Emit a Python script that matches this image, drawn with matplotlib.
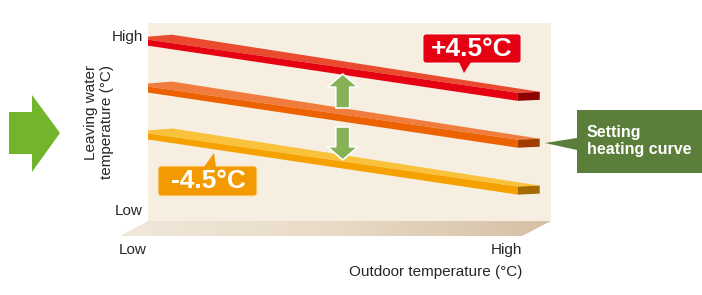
import numpy as np
import matplotlib.pyplot as plt
from matplotlib.patches import Polygon, FancyBboxPatch
from matplotlib.transforms import IdentityTransform
from matplotlib.colors import LinearSegmentedColormap
from matplotlib import font_manager

# heating curves: leaving water temp vs outdoor temp (low -> high)
outdoor = [-15, 15]
setting = [32.9, 27.8]
plus = [37.4, 32.3]      # +4.5 °C shift
minus = [28.4, 23.3]     # -4.5 °C shift

W, H = 702, 295
fig = plt.figure(figsize=(W / 100, H / 100), dpi=100)

names = {f.name for f in font_manager.fontManager.ttflist}
narrow = 'Liberation Sans Narrow' in names
big_font = ['Liberation Sans Narrow', 'Liberation Sans'] if narrow else ['Liberation Sans']
big_size = 21 if narrow else 19
plt.rcParams['font.family'] = ['Liberation Sans', 'DejaVu Sans']

# panel with the curves
ax = fig.add_axes([148 / W, 1 - 221 / H, 403 / W, 198 / H])
ax.set_xlim(-15, 17.7)
ax.set_ylim(20, 39)
ax.set_facecolor('#f5eee1')
ax.set_xticks([])
ax.set_yticks([])
for s in ax.spines.values():
    s.set_visible(False)

bars = [
    (plus, '#e50012', '#ea4a2e', '#8f0000'),
    (setting, '#ec6100', '#f07d3e', '#a03c00'),
    (minus, '#f5a200', '#f9c23a', '#a66b00'),
]
for vals, c_front, c_top, c_cap in bars:
    p0 = ax.transData.transform((outdoor[0], vals[0]))
    p1 = ax.transData.transform((outdoor[1], vals[1]))
    front = [p0, p1, p1 - (0, 8), p0 - (0, 6)]
    top = [p0, p1, p1 + (22, 1), p0 + (24, 5), p0 + (0, 3)]
    cap = [p1, p1 + (22, 1), p1 + (22, -7), p1 - (0, 8)]
    for verts, col in [(top, c_top), (front, c_front), (cap, c_cap)]:
        poly = Polygon(verts, closed=True, fc=col, ec='none',
                       transform=IdentityTransform())
        poly.set_clip_box(ax.bbox)
        ax.add_artist(poly)

# green arrows between the curves
xa = 0.8
s_mid = np.interp(xa, outdoor, setting)
p_mid = np.interp(xa, outdoor, plus)
m_mid = np.interp(xa, outdoor, minus)
arrow = dict(arrowstyle='simple,head_length=0.95,head_width=2.2,tail_width=1.0',
             fc='#86b155', ec='white', lw=1.2, shrinkA=0, shrinkB=0,
             mutation_scale=10)
ax.annotate('', xy=(xa, p_mid - 0.6), xytext=(xa, s_mid + 0.63),
            arrowprops=arrow, zorder=5)
ax.annotate('', xy=(xa, m_mid + 0.14), xytext=(xa, s_mid - 1.19),
            arrowprops=arrow, zorder=5)

# overlay in pixel units for the decorations
ov = fig.add_axes([0, 0, 1, 1], zorder=5)
ov.patch.set_visible(False)
ov.axis('off')

# floor of the box
floor = Polygon([(148, 221), (551, 221), (522, 236), (120, 236)], closed=True,
                fc='none', ec='none')
ov.add_patch(floor)
grad = LinearSegmentedColormap.from_list('floor', ['#f1e8da', '#e8dac6', '#d6c0a5'])
im = ov.imshow(np.linspace(0, 1, 256)[None, :], cmap=grad, aspect='auto',
               extent=(120, 551, 236, 221), interpolation='bilinear')
im.set_clip_path(floor)
ov.set_xlim(0, W)
ov.set_ylim(H, 0)

# big green arrow on the left
ov.add_patch(Polygon([(9, 112), (32, 112), (32, 95), (60, 133), (32, 172),
                      (32, 154), (9, 154)], closed=True, fc='#72b52d', ec='none'))

# +4.5 callout
ov.add_patch(FancyBboxPatch((423, 34), 98, 29, boxstyle='round,pad=0,rounding_size=3',
                            fc='#e50012', ec='white', lw=0.6))
ov.add_patch(Polygon([(459, 62), (471, 62), (464, 73)], closed=True,
                     fc='#e50012', ec='none'))
ov.text(472, 49.5, '+4.5°C', color='white', fontweight='bold', fontsize=big_size,
        family=big_font, ha='center', va='center')

# -4.5 callout
ov.add_patch(FancyBboxPatch((158, 166), 99, 30, boxstyle='round,pad=0,rounding_size=3',
                            fc='#f39a00', ec='#fde3b5', lw=0.8))
ov.add_patch(Polygon([(204, 167), (216, 167), (214, 153)], closed=True,
                     fc='#f39a00', ec='none'))
ov.text(208, 181.5, '-4.5°C', color='white', fontweight='bold', fontsize=big_size,
        family=big_font, ha='center', va='center')

# setting heating curve callout
ov.add_patch(Polygon([(577, 110), (702, 110), (702, 173), (577, 173), (577, 150),
                      (545, 143), (577, 138)], closed=True, fc='#5b7f3b', ec='none'))
ov.text(587, 141, 'Setting\nheating curve', color='white', fontweight='bold',
        fontsize=11.5, ha='left', va='center', linespacing=1.2)

# axis texts
tc = '#2b2624'
ov.text(143, 37, 'High', color=tc, fontsize=11, ha='right', va='center')
ov.text(143, 211, 'Low', color=tc, fontsize=11, ha='right', va='center')
ov.text(133, 250, 'Low', color=tc, fontsize=11, ha='center', va='center')
ov.text(522, 250, 'High', color=tc, fontsize=11, ha='right', va='center')
ov.text(522, 272, 'Outdoor temperature (°C)', color=tc, fontsize=11,
        ha='right', va='center')
ov.text(99, 122, 'Leaving water\ntemperature (°C)', color=tc, fontsize=11,
        rotation=90, ha='center', va='center', multialignment='right',
        linespacing=1.1)

fig.savefig('out.png', dpi=100)
plt.close()
